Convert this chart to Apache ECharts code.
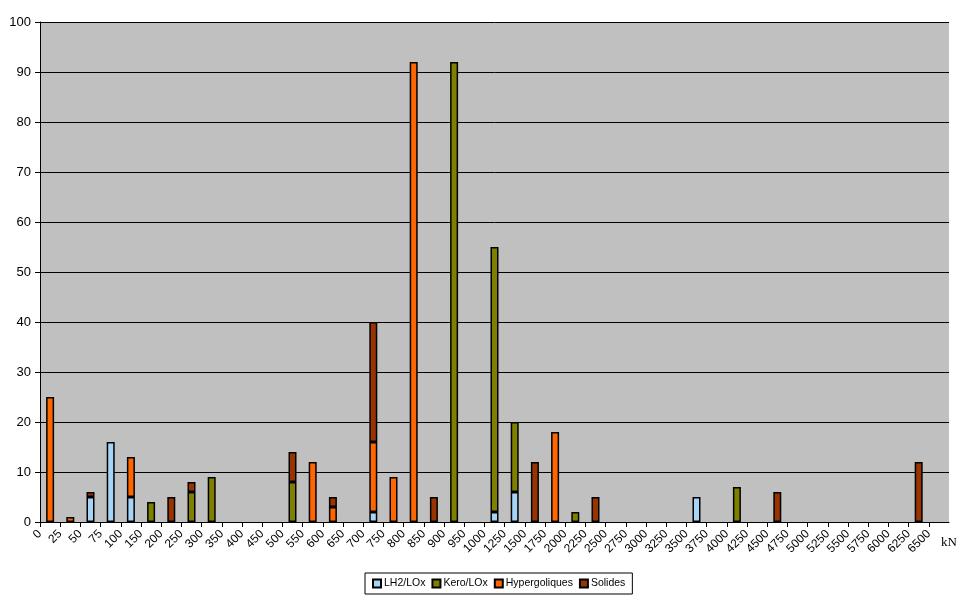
<!DOCTYPE html>
<html>
<head>
<meta charset="utf-8">
<script src="https://cdn.jsdelivr.net/npm/echarts@6/dist/echarts.min.js"></script>
<style>html,body{margin:0;padding:0;background:#fff}#c{width:961px;height:600px}</style>
</head>
<body>
<div id="c"></div>
<script>
// Tick labels at interval boundaries (kN)
const tickLabels = ['0','25','50','75','100','150','200','250','300','350','400','450','500','550','600','650','700','750','800','850','900','950','1000','1250','1500','1750','2000','2250','2500','2750','3000','3250','3500','3750','4000','4250','4500','4750','5000','5250','5500','5750','6000','6250','6500'];
// One category per interval (between consecutive tick labels, last one up to kN)
const categories = tickLabels.map((t, i) => t + '-' + (tickLabels[i + 1] || ''));
const seriesNames = ['LH2/LOx', 'Kero/LOx', 'Hypergoliques', 'Solides'];
const _ = null;
const lh2 =   [_,_,5,16,5,_,_,_,_,_,_,_,_,_,_,_,2,_,_,_,_,_,2,6,_,_,_,_,_,_,_,_,5,_,_,_,_,_,_,_,_,_,_,_,_];
const kero =  [_,_,_,_,_,4,_,6,9,_,_,_,8,_,_,_,_,_,_,_,92,_,53,14,_,_,2,_,_,_,_,_,_,_,7,_,_,_,_,_,_,_,_,_,_];
const hyper = [25,1,_,_,8,_,_,_,_,_,_,_,_,12,3,_,14,9,92,_,_,_,_,_,_,18,_,_,_,_,_,_,_,_,_,_,_,_,_,_,_,_,_,_,_];
const solid = [_,_,1,_,_,_,5,2,_,_,_,_,6,_,2,_,24,_,_,5,_,_,_,_,12,_,_,5,_,_,_,_,_,_,_,_,6,_,_,_,_,_,_,12,_];
const colors = ['#a6d4f7', '#808000', '#ff6600', '#993300'];

const chart = echarts.init(document.getElementById('c'));
const font = 'Liberation Sans, Arial, sans-serif';
const mk = (name, data, color) => ({
  name, type: 'bar', stack: 'all', data, xAxisIndex: 0, barWidth: 8,
  itemStyle: { color, borderColor: '#000', borderWidth: 1.5 }
});
chart.setOption({
  animation: false,
  textStyle: { fontFamily: font, color: '#000' },
  grid: { left: 40, right: 12, top: 22, bottom: 78, show: true, backgroundColor: '#c0c0c0', borderWidth: 0 },
  xAxis: [
    { type: 'category', data: categories, boundaryGap: true, show: false },
    { type: 'value', min: 0, max: tickLabels.length, interval: 1, position: 'bottom',
      axisLine: { show: true, lineStyle: { color: '#000', width: 1 } },
      axisTick: { show: true, length: 5, lineStyle: { color: '#000' } },
      splitLine: { show: false },
      axisLabel: { rotate: 45, margin: 10, fontSize: 12, fontFamily: font, color: '#000',
        showMaxLabel: false,
        formatter: v => tickLabels[v] !== undefined ? tickLabels[v] : '' } }
  ],
  yAxis: {
    type: 'value', min: 0, max: 100, interval: 10,
    axisLine: { show: true, lineStyle: { color: '#000' } },
    axisTick: { show: true, length: 5, lineStyle: { color: '#000' } },
    splitLine: { show: true, lineStyle: { color: '#000', width: 1 } },
    axisLabel: { fontSize: 13, margin: 9, color: '#000', fontFamily: font }
  },
  legend: {
    data: seriesNames, left: 365, bottom: 6, itemWidth: 8, itemHeight: 8, itemGap: 6,
    icon: 'rect', borderColor: '#000', borderWidth: 1, borderRadius: 0, padding: [5, 7, 5, 7],
    textStyle: { fontSize: 10.5, color: '#000', fontFamily: font, padding: [0, 0, 0, -2] }
  },
  graphic: [{ type: 'text', left: 941, top: 536, style: { text: 'kN', font: '13px "Liberation Serif", serif', fill: '#000' } }],
  series: [mk(seriesNames[0], lh2, colors[0]), mk(seriesNames[1], kero, colors[1]), mk(seriesNames[2], hyper, colors[2]), mk(seriesNames[3], solid, colors[3])]
});
</script>
</body>
</html>
